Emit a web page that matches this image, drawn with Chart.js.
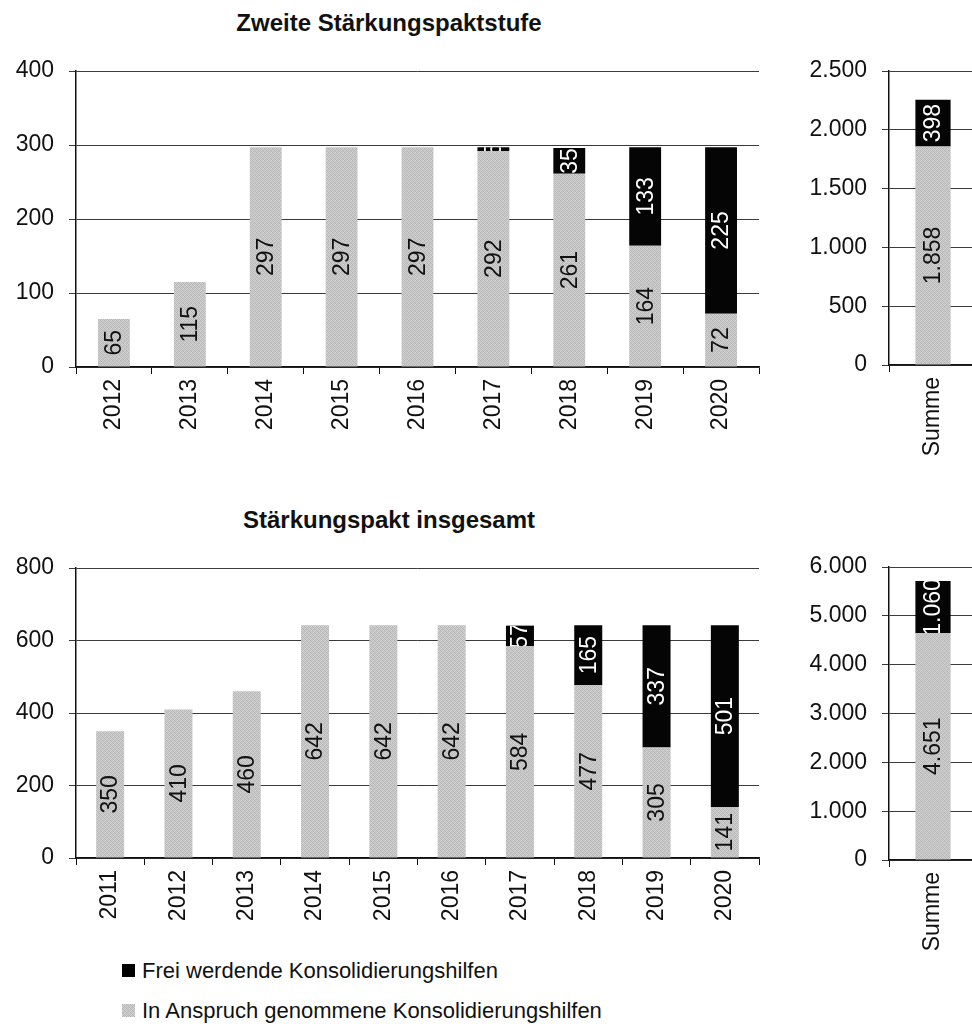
<!DOCTYPE html>
<html lang="de">
<head>
<meta charset="utf-8">
<title>Stärkungspakt</title>
<script src="https://cdn.jsdelivr.net/npm/chart.js@4.4.1/dist/chart.umd.min.js"></script>
<style>
  html, body { margin: 0; padding: 0; background: #fff; overflow: hidden; }
  body { width: 972px; height: 1028px; position: relative; font-family: "Liberation Sans", Arial, sans-serif; color: #111; }
  canvas { position: absolute; }
  .title { position: absolute; left: 0; width: 778px; text-align: center; font-weight: bold; font-size: 24px; line-height: 28px; }
  .legend { position: absolute; left: 122px; font-size: 22px; line-height: 26px; }
  .legend span.box { display: inline-block; width: 13px; height: 13px; margin-right: 7px; vertical-align: 1px; }
</style>
</head>
<body>
<div class="title" style="top:9px">Zweite Stärkungspaktstufe</div>
<div class="title" style="top:506px">Stärkungspakt insgesamt</div>

<canvas id="stufeYears" width="770" height="460" style="left:0;top:0"></canvas>
<canvas id="stufeSum" width="187" height="460" style="left:790px;top:0"></canvas>
<canvas id="totalYears" width="770" height="460" style="left:0;top:490px"></canvas>
<canvas id="totalSum" width="187" height="460" style="left:790px;top:490px"></canvas>

<div class="legend" style="top:958px"><span class="box" style="background:#000"></span>Frei werdende Konsolidierungshilfen</div>
<div class="legend" style="top:998px"><span class="box" id="grayBox"></span>In Anspruch genommene Konsolidierungshilfen</div>

<script>
// Zweite Stärkungspaktstufe, Mio. Euro
const stufeYears = ['2012', '2013', '2014', '2015', '2016', '2017', '2018', '2019', '2020'];
const stufeUsed  = [65, 115, 297, 297, 297, 292, 261, 164, 72];
const stufeFree  = [0, 0, 0, 0, 0, 5, 35, 133, 225];
const stufeTicks = { max: 400, step: 100 };

const sumLabels    = ['Summe'];
const stufeSumUsed = [1858];
const stufeSumFree = [398];
const stufeSumTicks = { max: 2500, step: 500 };

// Stärkungspakt insgesamt
const totalYears = ['2011', '2012', '2013', '2014', '2015', '2016', '2017', '2018', '2019', '2020'];
const totalUsed  = [350, 410, 460, 642, 642, 642, 584, 477, 305, 141];
const totalFree  = [0, 0, 0, 0, 0, 0, 57, 165, 337, 501];
const totalTicks = { max: 800, step: 200 };

const totalSumUsed = [4651];
const totalSumFree = [1060];
const totalSumTicks = { max: 6000, step: 1000 };

const FONT = '"Liberation Sans", Arial, sans-serif';

// stippled grey like the printed original
function grayPattern() {
  const c = document.createElement('canvas');
  c.width = 4; c.height = 4;
  const g = c.getContext('2d');
  const shades = ['#b4b4b4', '#cdcdcd', '#c2c2c2', '#d4d4d4',
                  '#c8c8c8', '#b9b9b9', '#d0d0d0', '#bebebe',
                  '#c4c4c4', '#d2d2d2', '#b6b6b6', '#cacaca',
                  '#cfcfcf', '#bcbcbc', '#c9c9c9', '#b8b8b8'];
  shades.forEach((s, i) => {
    g.fillStyle = s;
    g.fillRect(i % 4, Math.floor(i / 4), 1, 1);
  });
  return c;
}
const patternCanvas = grayPattern();
document.getElementById('grayBox').style.background = 'url(' + patternCanvas.toDataURL() + ')';

// vertical value labels inside each bar segment, clipped to the segment
const barLabels = {
  id: 'barLabels',
  afterDatasetsDraw(chart) {
    const ctx = chart.ctx;
    chart.data.datasets.forEach((ds, di) => {
      const meta = chart.getDatasetMeta(di);
      meta.data.forEach((bar, i) => {
        const v = ds.data[i];
        if (!v) return;
        const p = bar.getProps(['x', 'y', 'base', 'width'], true);
        const top = Math.min(p.y, p.base);
        const h = Math.abs(p.base - p.y);
        ctx.save();
        ctx.beginPath();
        ctx.rect(p.x - p.width / 2, top, p.width, h);
        ctx.clip();
        ctx.translate(p.x, top + h / 2);
        ctx.rotate(-Math.PI / 2);
        ctx.font = '23px ' + FONT;
        ctx.textAlign = 'center';
        ctx.textBaseline = 'middle';
        ctx.fillStyle = ds.labelColor;
        ctx.fillText(v.toLocaleString('de-DE'), 0, 1);
        ctx.restore();
      });
    });
  }
};

function makeChart(id, labels, used, free, ticks, box) {
  const ctx = document.getElementById(id).getContext('2d');
  const pattern = ctx.createPattern(patternCanvas, 'repeat');
  return new Chart(ctx, {
    type: 'bar',
    data: {
      labels: labels,
      datasets: [
        {
          label: 'In Anspruch genommene Konsolidierungshilfen',
          data: used,
          backgroundColor: pattern,
          labelColor: '#111',
          borderWidth: 0
        },
        {
          label: 'Frei werdende Konsolidierungshilfen',
          data: free,
          backgroundColor: '#050505',
          labelColor: '#fff',
          borderWidth: 0
        }
      ]
    },
    options: {
      responsive: false,
      animation: false,
      devicePixelRatio: 1,
      locale: 'de-DE',
      layout: { padding: { top: box.top, left: 0, right: box.right, bottom: 0 } },
      datasets: { bar: { barPercentage: box.bar, categoryPercentage: 1 } },
      plugins: {
        legend: { display: false },
        tooltip: { enabled: false },
        title: { display: false }
      },
      scales: {
        x: {
          stacked: true,
          afterFit: s => { s.height = box.xHeight; },
          grid: { offset: true, drawOnChartArea: false, tickLength: 7, color: '#111' },
          border: { color: '#111', width: 1.5 },
          ticks: {
            autoSkip: false, minRotation: 90, maxRotation: 90, padding: 5,
            color: '#111', font: { family: FONT, size: 23 }
          }
        },
        y: {
          stacked: true,
          min: 0,
          max: ticks.max,
          afterFit: s => { s.width = box.yWidth; },
          grid: { color: '#3a3a3a', tickLength: 7, lineWidth: 1 },
          border: { color: '#111', width: 1.5 },
          ticks: {
            stepSize: ticks.step, padding: 15,
            color: '#111', font: { family: FONT, size: 23 }
          }
        }
      }
    },
    plugins: [barLabels]
  });
}

window.charts = {
  stufeYears: makeChart('stufeYears', stufeYears, stufeUsed, stufeFree, stufeTicks,
    { top: 71, right: 11, yWidth: 76, xHeight: 93, bar: 0.42 }),
  stufeSum: makeChart('stufeSum', sumLabels, stufeSumUsed, stufeSumFree, stufeSumTicks,
    { top: 71, right: 0, yWidth: 99, xHeight: 95, bar: 0.4 }),
  totalYears: makeChart('totalYears', totalYears, totalUsed, totalFree, totalTicks,
    { top: 78, right: 11, yWidth: 76, xHeight: 92, bar: 0.41 }),
  totalSum: makeChart('totalSum', sumLabels, totalSumUsed, totalSumFree, totalSumTicks,
    { top: 77, right: 0, yWidth: 99, xHeight: 90, bar: 0.4 })
};
</script>
</body>
</html>
